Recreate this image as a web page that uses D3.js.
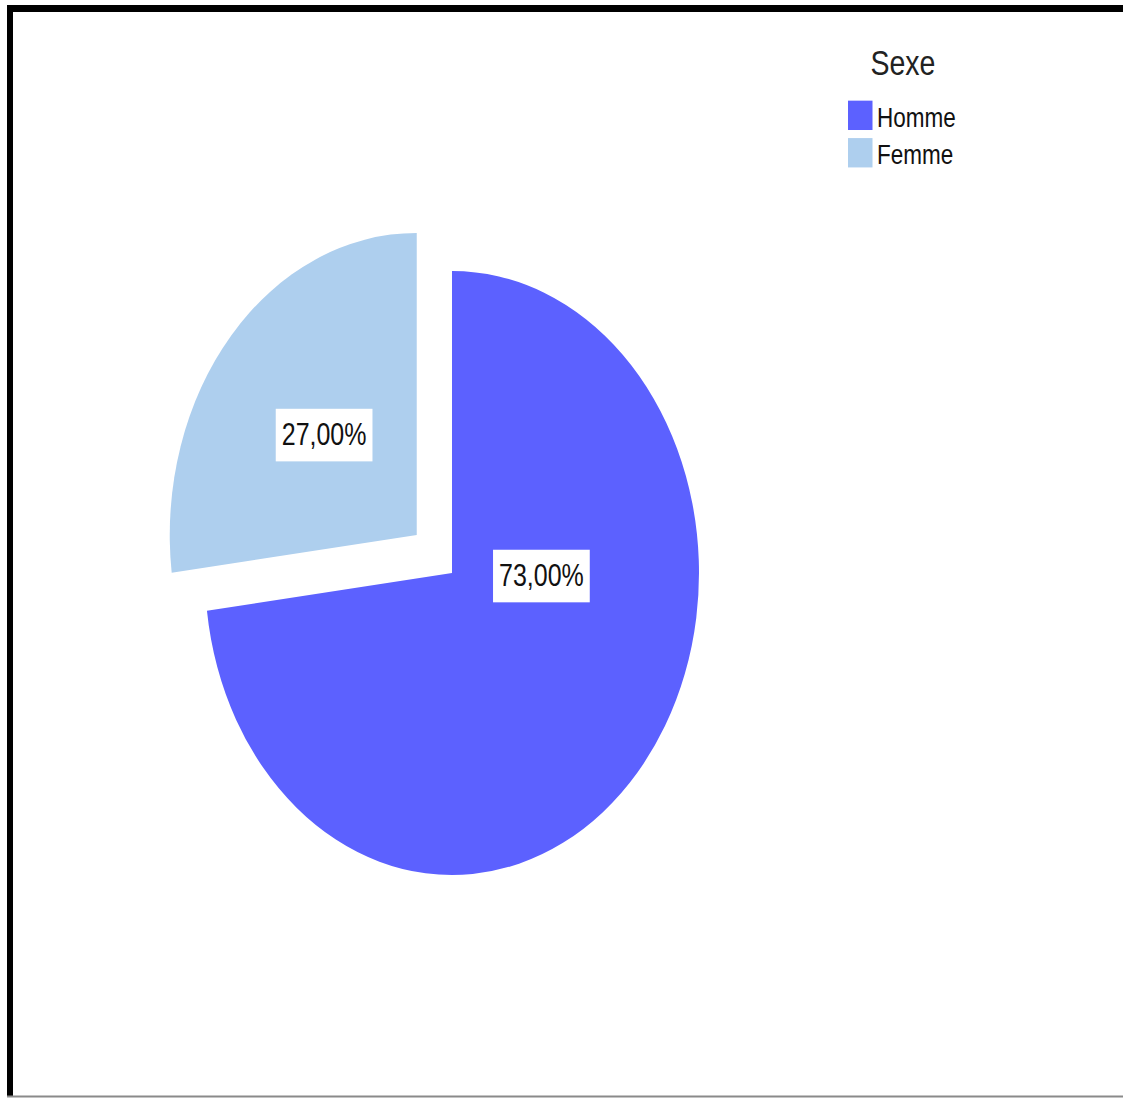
<!DOCTYPE html>
<html>
<head>
<meta charset="utf-8">
<script src="https://cdn.jsdelivr.net/npm/d3@7"></script>
<style>
  html, body { margin: 0; padding: 0; background: #fff; }
  svg { display: block; }
  text { font-family: "Liberation Sans", Arial, sans-serif; }
</style>
</head>
<body>
<div id="chart"></div>
<script>
// ---- data ----
const categories = ["Homme", "Femme"];
const values = [73, 27];
const labels = ["73,00%", "27,00%"];
const legendTitle = "Sexe";
const colors = ["#5c61ff", "#aecfee"];

// ---- layout ----
const W = 1123, H = 1098;
const sy = 1.223;            // vertical stretch of the original picture
const cx = 452, cy = 468.5;  // pie centre (unstretched units)
const R = 247;
const explode = 47;

const svg = d3.select("#chart").append("svg")
  .attr("width", W).attr("height", H);

// frame
svg.append("line").attr("x1", 7).attr("x2", W).attr("y1", 8.5).attr("y2", 8.5)
  .attr("stroke", "#000").attr("stroke-width", 7);
svg.append("line").attr("x1", 10).attr("x2", 10).attr("y1", 5).attr("y2", 1097)
  .attr("stroke", "#000").attr("stroke-width", 6);
svg.append("line").attr("x1", 7).attr("x2", W).attr("y1", 1096.5).attr("y2", 1096.5)
  .attr("stroke", "#8a8a8a").attr("stroke-width", 2);

const g = svg.append("g").attr("transform", `scale(1,${sy})`);

const pie = d3.pie().sort(null).value(d => d)(values);
const arc = d3.arc().innerRadius(0).outerRadius(R);

const slices = g.append("g").attr("transform", `translate(${cx},${cy})`);

pie.forEach((p, i) => {
  const mid = (p.startAngle + p.endAngle) / 2;
  const off = i === 0 ? 0 : explode;
  const ox = Math.sin(mid) * off, oy = -Math.cos(mid) * off;
  const sg = slices.append("g").attr("transform", `translate(${ox},${oy})`);
  sg.append("path").attr("d", arc(p)).attr("fill", colors[i]);

  let [lx, ly] = arc.centroid(p);
  if (p.endAngle - p.startAngle > Math.PI) { lx = lx * 0.965; ly = 2.5; } // major slice: label on horizontal axis
  const lg = sg.append("g").attr("transform", `translate(${lx},${ly})`);
  const t = lg.append("text")
    .attr("text-anchor", "middle")
    .attr("dominant-baseline", "central")
    .attr("font-size", 25)
    .attr("fill", "#111")
    .text(labels[i]);
  const bb = t.node().getBBox();
  lg.insert("rect", "text")
    .attr("x", bb.x - 6).attr("y", -21.5)
    .attr("width", bb.width + 12).attr("height", 43)
    .attr("fill", "#fff");
});

// legend
const leg = g.append("g");
leg.append("text").attr("x", 903).attr("y", 61.3)
  .attr("text-anchor", "middle").attr("font-size", 28.5).attr("fill", "#222")
  .text(legendTitle);
categories.forEach((c, i) => {
  const y0 = 82.3 + i * 30.6;
  leg.append("rect").attr("x", 848).attr("y", y0).attr("width", 24.5).attr("height", 24)
    .attr("fill", colors[i]);
  leg.append("text").attr("x", 877).attr("y", y0 + 21.6)
    .attr("font-size", 22.5).attr("fill", "#111").text(c);
});
</script>
</body>
</html>
